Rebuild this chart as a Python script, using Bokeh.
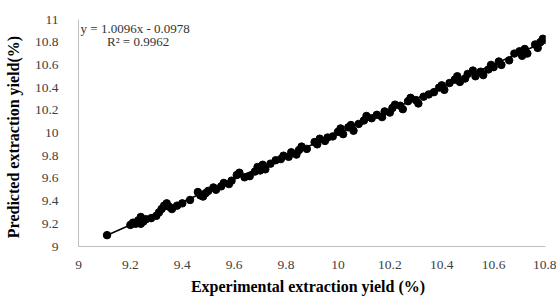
from bokeh.plotting import figure
from bokeh.models import FixedTicker, Label, Range1d, ColumnDataSource
from bokeh.embed import file_html
from bokeh.resources import INLINE

experimental = [9.11, 9.20, 9.21, 9.22, 9.23, 9.24, 9.24, 9.25, 9.26, 9.28, 9.30, 9.31, 9.32, 9.33,
                9.34, 9.35, 9.36, 9.38, 9.40, 9.43, 9.46, 9.47, 9.48, 9.49, 9.50, 9.52, 9.53, 9.55,
                9.56, 9.58, 9.59, 9.61, 9.62, 9.64, 9.66, 9.68, 9.69, 9.70, 9.71, 9.72, 9.74, 9.76,
                9.78, 9.79, 9.81, 9.82, 9.84, 9.85, 9.86, 9.88, 9.91, 9.92, 9.93, 9.95, 9.96, 9.98,
                10.00, 10.01, 10.02, 10.04, 10.05, 10.06, 10.08, 10.10, 10.11, 10.13, 10.15, 10.17,
                10.18, 10.20, 10.21, 10.22, 10.24, 10.25, 10.27, 10.28, 10.30, 10.31, 10.33, 10.35,
                10.37, 10.39, 10.40, 10.41, 10.43, 10.45, 10.46, 10.47, 10.49, 10.50, 10.52, 10.53,
                10.55, 10.56, 10.58, 10.59, 10.60, 10.62, 10.63, 10.66, 10.68, 10.70, 10.71, 10.72,
                10.73, 10.76, 10.77, 10.78, 10.79, 10.80]
predicted = [9.10, 9.19, 9.21, 9.20, 9.23, 9.26, 9.20, 9.22, 9.24, 9.25, 9.27, 9.30, 9.33, 9.36,
             9.38, 9.35, 9.33, 9.36, 9.38, 9.41, 9.48, 9.45, 9.44, 9.47, 9.49, 9.52, 9.50, 9.53,
             9.56, 9.55, 9.58, 9.63, 9.65, 9.61, 9.62, 9.66, 9.70, 9.67, 9.72, 9.68, 9.73, 9.76,
             9.77, 9.80, 9.79, 9.83, 9.81, 9.85, 9.88, 9.86, 9.92, 9.90, 9.95, 9.93, 9.96, 9.97,
             10.01, 10.04, 9.99, 10.05, 10.07, 10.02, 10.08, 10.11, 10.15, 10.13, 10.16, 10.14,
             10.19, 10.18, 10.22, 10.25, 10.24, 10.21, 10.28, 10.31, 10.29, 10.26, 10.32, 10.34,
             10.36, 10.40, 10.42, 10.38, 10.44, 10.47, 10.50, 10.45, 10.48, 10.52, 10.55, 10.50,
             10.54, 10.51, 10.56, 10.60, 10.58, 10.63, 10.60, 10.64, 10.70, 10.72, 10.68, 10.74,
             10.70, 10.78, 10.75, 10.80, 10.83, 10.82]

slope = 1.0096
intercept = -0.0978
r2 = 0.9962
trend_x = [9.11, 10.80]
trend_y = [slope * v + intercept for v in trend_x]

x_ticks = [9, 9.2, 9.4, 9.6, 9.8, 10, 10.2, 10.4, 10.6, 10.8]
x_tick_labels = ["9", "9.2", "9.4", "9.6", "9.8", "10", "10.2", "10.4", "10.6", "10.8"]
y_ticks = [9, 9.2, 9.4, 9.6, 9.8, 10, 10.2, 10.4, 10.6, 10.8, 11]
y_tick_labels = ["9", "9.2", "9.4", "9.6", "9.8", "10", "10.2", "10.4", "10.6", "10.8", "11"]

FONT = "Liberation Serif"

p = figure(width=556, height=297, output_backend="svg", toolbar_location=None,
           x_range=Range1d(9, 10.8), y_range=Range1d(9, 11),
           min_border_left=78, min_border_right=11, min_border_top=19, min_border_bottom=48)
p.outline_line_color = None
p.xgrid.visible = False
p.ygrid.visible = False
p.background_fill_color = "white"

src = ColumnDataSource(dict(x=experimental, y=predicted))
p.line(trend_x, trend_y, line_color="black", line_width=1.6)
p.scatter("x", "y", source=src, size=7.5, fill_color="black", line_color="black")

for ax, ticks, labels in ((p.xaxis[0], x_ticks, x_tick_labels), (p.yaxis[0], y_ticks, y_tick_labels)):
    ax.ticker = FixedTicker(ticks=ticks)
    ax.major_label_overrides = {t: l for t, l in zip(ticks, labels)}
    ax.major_tick_line_color = None
    ax.minor_tick_line_color = None
    ax.axis_line_color = "#bfbfbf"
    ax.axis_line_width = 1
    ax.major_label_text_font = FONT
    ax.major_label_text_font_size = "13.5px"
    ax.major_label_text_color = "#404040"
    ax.axis_label_text_font = FONT
    ax.axis_label_text_font_style = "bold"
    ax.axis_label_text_font_size = "16px"
    ax.axis_label_text_color = "black"

p.xaxis.axis_label = "Experimental  extraction  yield (%)"
p.yaxis.axis_label = "Predicted  extraction  yield(%)"
p.xaxis.major_label_standoff = 8
p.xaxis.axis_label_standoff = 6
p.yaxis.major_label_standoff = 14
p.yaxis.axis_label_standoff = 10

eq = Label(x=9.008, y=10.985, text="y = %.4fx - %.4f" % (slope, -intercept),
           text_baseline="top", text_font=FONT, text_font_size="13px", text_color="#333333")
rr = Label(x=9.11, y=10.87, text="R² = %.4f" % r2,
           text_baseline="top", text_font=FONT, text_font_size="13px", text_color="#333333")
p.add_layout(eq)
p.add_layout(rr)

open("out.html", "w").write(file_html(p, INLINE))
